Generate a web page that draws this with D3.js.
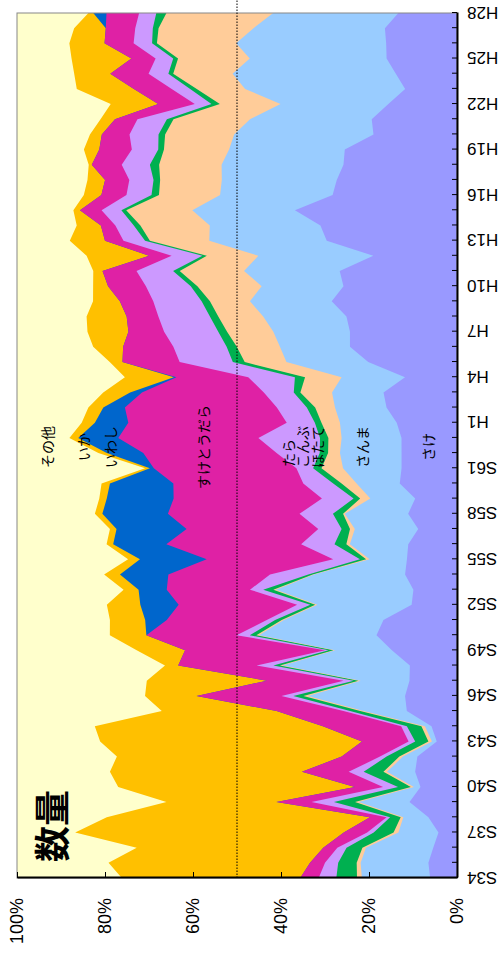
<!DOCTYPE html>
<html>
<head>
<meta charset="utf-8">
<script src="https://cdn.jsdelivr.net/npm/d3@7"></script>
<style>
  body { margin: 0; background: #fff; }
  svg { display: block; }
</style>
</head>
<body>
<svg id="chart" width="500" height="955"></svg>
<script>
// years (Showa / Heisei)
const years = ["S34","S35","S36","S37","S38","S39","S40","S41","S42","S43",
  "S44","S45","S46","S47","S48","S49","S50","S51","S52","S53",
  "S54","S55","S56","S57","S58","S59","S60","S61","S62","S63",
  "H1","H2","H3","H4","H5","H6","H7","H8","H9","H10",
  "H11","H12","H13","H14","H15","H16","H17","H18","H19","H20",
  "H21","H22","H23","H24","H25","H26","H27","H28"];
const tickLabels = ["S34","S37","S40","S43","S46","S49","S52","S55","S58","S61",
  "H1","H4","H7","H10","H13","H16","H19","H22","H25","H28"];

// share of catch (%), bottom to top
const sake = [6.1,6.5,5.4,4.2,6.5,10.8,8.3,9.5,9.0,4.6, 5.8,11.4,11.8,10.8,10.7,14.8,18.3,16.7,10.3,9.9,
  11.8,11.4,11.1,8.8,11.1,9.5,13.0,12.6,12.6,12.6, 13.7,16.0,16.7,11.8,20.2,24.3,24.3,25.1,28.5,25.8,
  26.6,19.0,29.6,31.1,36.8,28.3,27.3,25.8,25.5,19.0, 19.4,15.6,11.8,13.9,16.0,16.1,16.4,13.3];
const sanma = [15.5,15.4,15.3,9.1,5.7,11.6,1.5,6.4,3.3,1.1, 1.5,9.8,22.1,11.1,28.9,12.9,26.7,22.6,21.4,31.2,
  20.7,8.5,13.3,14.4,14.4,10.2,9.8,13.3,14.0,13.6, 12.9,11.7,11.7,14.4,18.6,15.9,17.4,18.9,18.6,18.6,
  21.7,26.1,26.7,25.2,23.3,25.6,26.1,27.7,26.3,31.7, 27.7,24.5,36.4,37.1,31.1,34.1,29.9,28.4];
const hotate = [1.1,0.9,0.8,1.1,0.6,0.8,0.7,0.8,0.8,0.8, 0.8,0.8,1.0,0.5,0.6,0.4,0.6,0.5,0.5,0.6,
  0.3,0.8,0.8,1.1,0.4,2.3,3.4,4.9,2.7,3.0, 4.2,4.5,7.2,8.3,9.5,9.8,10.5,10.2,9.1,14.6,
  14.6,11.7,13.5,15.8,15.0,13.9,14.0,14.2,14.8,15.7, 17.4,13.8,11.0,13.5,16.3,18.0,21.6,24.2];
const konbu = [4.7,4.2,3.6,4.5,2.4,4.8,2.9,4.5,2.9,3.0, 3.3,2.3,2.3,1.1,1.5,1.1,1.5,1.5,1.1,2.3,
  1.0,1.4,2.7,1.9,2.3,1.5,1.9,1.9,1.9,1.9, 1.5,1.9,1.5,2.3,2.7,2.3,2.0,1.9,1.9,1.5,
  1.5,1.0,1.1,1.5,1.1,1.7,1.5,2.1,1.3,1.5, 1.5,1.9,1.5,1.1,1.1,1.1,1.3,2.3];
const tara = [4.0,3.0,2.1,1.5,0.8,5.1,3.4,3.4,1.5,1.5, 1.3,1.5,2.7,2.3,3.8,0.8,3.0,1.9,3.0,3.0,
  8.7,6.1,7.6,5.3,7.6,7.2,6.8,3.8,9.8,14.0, 6.4,6.8,6.8,10.6,12.1,12.1,12.3,11.7,11.0,10.2,
  8.3,7.0,4.9,4.2,4.5,5.7,5.5,6.4,6.0,6.6, 6.7,3.8,4.2,4.5,4.0,4.2,4.0,3.9];
const suketo = [4.2,3.4,3.2,5.3,3.8,8.0,6.4,10.6,8.7,10.6, 17.8,15.2,19.3,17.4,17.8,31.8,20.5,22.7,26.9,18.9,
  23.1,28.8,30.7,29.9,29.9,33.7,29.5,32.4,30.3,31.8, 36.0,34.5,27.7,16.3,13.0,11.4,8.1,7.2,7.6,8.6,
  7.7,5.1,4.2,3.3,4.9,5.7,5.5,6.8,7.4,6.3, 5.1,8.3,8.6,8.7,5.5,6.6,6.7,7.4];
const iwashi = [0,0,0,0,0,0,0,0,0,0, 0,0,0,0,0,0,0,4.9,8.7,6.4,
  11.0,15.2,12.1,15.9,14.9,15.2,14.4,0.9,8.3,9.1, 7.6,4.9,2.7,0.6,0,0,0,0,0,0,
  0,0,0,0,0,0,0,0,0,0, 0,0,0,0,0,0,0,3.0];
const ika = [40.5,45.8,42.4,61.0,59.8,25.0,53.8,43.6,51.1,59.5, 51.9,26.1,11.7,27.3,3.0,11.0,8.3,8.0,7.6,3.4,
  3.6,2.7,1.5,1.5,1.7,1.7,1.9,1.1,1.9,2.0, 3.0,3.4,6.1,11.1,2.9,6.8,9.3,9.1,6.1,3.4,
  2.1,14.2,8.0,5.5,1.5,4.0,4.0,0.7,3.5,2.7, 3.3,10.8,13.0,8.2,13.6,8.0,7.2,1.1];
const sonota = [23.8,20.8,27.2,13.2,20.4,34.0,23.0,21.1,22.7,18.9, 17.7,32.9,29.1,29.5,33.6,27.2,21.1,21.1,20.4,24.2,
  19.8,25.3,20.4,21.1,17.7,18.7,19.2,29.1,18.5,11.9, 14.7,16.2,19.6,24.5,21.1,17.3,16.0,15.8,17.3,17.3,
  17.3,15.8,12.0,13.6,12.8,15.2,16.0,16.3,15.2,16.6, 19.0,21.3,13.6,13.0,12.4,11.9,13.0,16.2];

const keys = ["さけ","さんま","ほたて","こんぶ","たら","すけとうだら","いわし","いか","その他"];
const values = [sake, sanma, hotate, konbu, tara, suketo, iwashi, ika, sonota];
const colors = ["#9999ff","#99ccff","#ffcc99","#00b050","#cc99ff","#df21a5","#0066cc","#ffc000","#ffffcc"];

// where the series names sit (year index, percent)
const labelIdx = [28.4, 28.4, 28.4, 28.4, 28.0, 28.4, 28.4, 28.4, 28.4];
const labelPct = [6.6, 21.6, 31.8, 35.2, 38.4, 57.7, 78.9, 85.0, 93.2];

const svg = d3.select("#chart");
// the chart is laid out landscape and then turned a quarter turn
const W = 955, H = 500;
const margin = {top: 17, right: 13, bottom: 43, left: 77};
const g = svg.append("g").attr("transform", "translate(0," + W + ") rotate(-90)");

const x = d3.scaleLinear().domain([0, years.length - 1]).range([margin.left, W - margin.right]);
const y = d3.scaleLinear().domain([0, 1]).range([H - margin.bottom, margin.top]);

const rows = years.map((yr, i) => {
  const r = {i: i};
  keys.forEach((k, j) => { r[k] = values[j][i]; });
  return r;
});
const series = d3.stack().keys(keys).offset(d3.stackOffsetExpand)(rows);

// fill each layer down to 0 and paint top first, so no seams show
const area = d3.area()
  .x(d => x(d.data.i))
  .y0(y(0))
  .y1(d => y(d[1]));

g.selectAll("path.layer")
  .data(series.slice().reverse())
  .join("path")
  .attr("class", "layer")
  .attr("d", area)
  .attr("fill", d => colors[d.index]);

g.append("rect")
  .attr("x", margin.left).attr("y", margin.top)
  .attr("width", W - margin.left - margin.right)
  .attr("height", H - margin.top - margin.bottom)
  .attr("fill", "none").attr("stroke", "#888").attr("stroke-width", 1);

g.append("line")
  .attr("x1", x(0)).attr("x2", W)
  .attr("y1", y(0.5)).attr("y2", y(0.5))
  .attr("stroke", "#000").attr("stroke-width", 1)
  .attr("stroke-dasharray", "1.5,1.5");

const xAxis = g.append("g")
  .attr("transform", "translate(0," + y(0) + ")")
  .call(d3.axisBottom(x)
    .tickValues(d3.range(years.length))
    .tickSize(-5).tickSizeOuter(0)
    .tickFormat(i => tickLabels.includes(years[i]) ? years[i] : ""));
xAxis.select(".domain").attr("stroke", "#000").attr("stroke-width", 2);
xAxis.selectAll(".tick line").attr("stroke", "#000");
xAxis.selectAll("text")
  .attr("transform", "rotate(-90)")
  .attr("x", -10).attr("y", 0).attr("dy", "0.35em")
  .attr("text-anchor", "end")
  .attr("fill", "#000")
  .style("font", "17px 'Liberation Sans', Arial, sans-serif");

const yAxis = g.append("g")
  .attr("transform", "translate(" + x(0) + ",0)")
  .call(d3.axisLeft(y)
    .tickValues([0, 0.2, 0.4, 0.6, 0.8, 1])
    .tickSize(-6).tickSizeOuter(0).tickPadding(20)
    .tickFormat(d3.format(".0%")));
yAxis.select(".domain").attr("stroke", "#000").attr("stroke-width", 2);
yAxis.selectAll(".tick line").attr("stroke", "#000");
yAxis.selectAll("text")
  .attr("fill", "#000")
  .style("font", "18px 'Liberation Sans', Arial, sans-serif");

g.selectAll("text.lab")
  .data(keys)
  .join("text")
  .attr("class", "lab")
  .attr("x", (d, i) => x(labelIdx[i]))
  .attr("y", (d, i) => y(labelPct[i] / 100))
  .attr("text-anchor", "middle")
  .attr("dominant-baseline", "central")
  .style("font", "14px 'Noto Sans CJK JP', sans-serif")
  .attr("fill", "#000")
  .text(d => d);

g.append("text")
  .attr("x", 93).attr("y", 50)
  .attr("dominant-baseline", "central")
  .style("font", "bold 36px 'Noto Sans CJK JP', sans-serif")
  .attr("fill", "#000")
  .text("数量");
</script>
</body>
</html>
